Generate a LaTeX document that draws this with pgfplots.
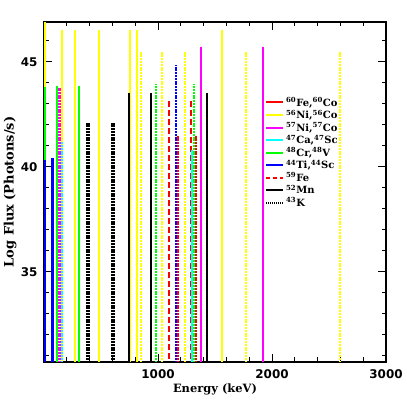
\documentclass[border=0pt]{standalone}
\usepackage{fontspec}
\setmainfont{DejaVu Serif}
\setsansfont{DejaVu Sans}
\usepackage{pgfplots}
\pgfplotsset{compat=1.18}

\definecolor{cYel}{RGB}{255,255,0}
\definecolor{cMag}{RGB}{255,0,255}
\definecolor{cCya}{RGB}{0,255,255}
\definecolor{cGrn}{RGB}{0,255,0}
\definecolor{cBlu}{RGB}{0,0,255}
\definecolor{cRed}{RGB}{255,0,0}

% one gamma line: style, energy (keV), log flux
\newcommand{\gline}[3]{\addplot[#1,forget plot] coordinates {(#2,30) (#2,#3)};}

\tikzset{
  sol/.style={line width=2bp},
  dot/.style={line width=2bp,dash pattern=on 2bp off 0.8bp},
  dsh/.style={line width=2bp,dash pattern=on 6bp off 3bp},
}

\begin{document}
\begin{tikzpicture}
\begin{axis}[
  scale only axis, width=342bp, height=340bp,
  xmin=0, xmax=3000, ymin=30.7, ymax=46.9,
  xtick={1000,2000,3000}, ytick={35,40,45},
  minor xtick={200,400,600,800,1200,1400,1600,1800,2200,2400,2600,2800},
  minor ytick={31,32,33,34,36,37,38,39,41,42,43,44,46},
  scaled x ticks=false,
  tick align=inside, tick pos=both,
  major tick length=8bp, minor tick length=4.5bp,
  every tick/.append style={black,line width=0.9bp},
  axis line style={line width=1.2bp},
  /pgf/number format/assume math mode=true,
  /pgf/number format/1000 sep={},
  tick label style={font=\sffamily\bfseries\fontsize{12}{14}\selectfont},
  xticklabel style={yshift=-4bp},
  yticklabel style={xshift=-3bp},
  xlabel={Energy (keV)}, ylabel={Log Flux (Photons/s)},
  xlabel style={at={(axis description cs:0.5,-0.091)},anchor=base,
    font=\bfseries\fontsize{11.5}{13}\selectfont},
  ylabel style={at={(axis description cs:-0.099,0.5)},anchor=center,
    font=\bfseries\fontsize{13}{15}\selectfont},
  legend style={at={(0.646,0.785)},anchor=north west,draw=none,fill=none,
    inner sep=0pt,row sep=-1.7bp,font=\bfseries\fontsize{10}{11}\selectfont},
  legend image code/.code={\draw[#1] (0bp,0bp) -- (17bp,0bp);},
  legend cell align=left,
]
\addlegendimage{cRed,line width=2bp}
\addlegendentry{\textsuperscript{60}Fe,\textsuperscript{60}Co}
\addlegendimage{cYel,line width=2bp}
\addlegendentry{\textsuperscript{56}Ni,\textsuperscript{56}Co}
\addlegendimage{cMag,line width=2bp}
\addlegendentry{\textsuperscript{57}Ni,\textsuperscript{57}Co}
\addlegendimage{cCya,line width=2bp}
\addlegendentry{\textsuperscript{47}Ca,\textsuperscript{47}Sc}
\addlegendimage{cGrn,line width=2bp}
\addlegendentry{\textsuperscript{48}Cr,\textsuperscript{48}V}
\addlegendimage{cBlu,line width=2bp}
\addlegendentry{\textsuperscript{44}Ti,\textsuperscript{44}Sc}
\addlegendimage{cRed,line width=2bp,dash pattern=on 4bp off 3bp}
\addlegendentry{\textsuperscript{59}Fe}
\addlegendimage{black,line width=2bp}
\addlegendentry{\textsuperscript{52}Mn}
\addlegendimage{black,line width=1.2bp,dash pattern=on 1bp off 1bp}
\addlegendentry{\textsuperscript{43}K}

% lines along the left axis
\gline{cYel,sol}{6}{46.9}
\gline{cGrn,sol}{6}{43.8}
\gline{cBlu,sol}{6}{40.33}
% 57Co
\gline{cMag,dot}{122}{43.75}
\gline{cMag,dot}{136}{43.75}
% 44Ti
\gline{cBlu,sol}{68}{40.4}
\gline{cBlu,sol}{78}{40.4}
% 48Cr
\gline{cGrn,sol}{112}{43.86}
\gline{cGrn,sol}{308}{43.86}
% 56Ni
\gline{cYel,sol}{158}{46.52}
\gline{cYel,sol}{270}{46.52}
\gline{cYel,sol}{480}{46.52}
\gline{cYel,sol}{750}{46.52}
\gline{cYel,sol}{812}{46.52}
\gline{cYel,sol}{1562}{46.52}
% 47Sc
\gline{cCya,dot}{159}{41.2}
% 43K
\gline{black,dot}{373}{42.13}
\gline{black,dot}{397}{42.13}
\gline{black,dot}{593}{42.13}
\gline{black,dot}{617}{42.13}
% 52Mn
\gline{black,sol}{744}{43.54}
\gline{black,sol}{935}{43.54}
\gline{black,sol}{1434}{43.54}
% 56Co
\gline{cYel,dot}{847}{45.49}
\gline{cYel,dot}{1038}{45.49}
\gline{cYel,dot}{1238}{45.49}
\gline{cYel,dot}{1771}{45.49}
\gline{cYel,dot}{2599}{45.49}
% 48V
\gline{cGrn,dot}{983}{43.95}
\gline{cGrn,dot}{1312}{43.95}
% 59Fe
\gline{cRed,dsh}{1099}{43.16}
\gline{cRed,dsh}{1292}{43.16}
% 44Sc
\gline{cBlu,dot}{1157}{44.86}
% 60Co
\gline{cRed,dot}{1173}{41.48}
\gline{cRed,dot}{1332}{41.48}
% 47Ca
\gline{cCya,sol}{1297}{40.81}
% 57Ni
\gline{cMag,sol}{1378}{45.73}
\gline{cMag,sol}{1920}{45.73}
\end{axis}
\pgfresetboundingbox
\path ([shift={(-44bp,-45bp)}]current axis.south west)
  rectangle ([shift={(21bp,22bp)}]current axis.north east);
\end{tikzpicture}
\end{document}
